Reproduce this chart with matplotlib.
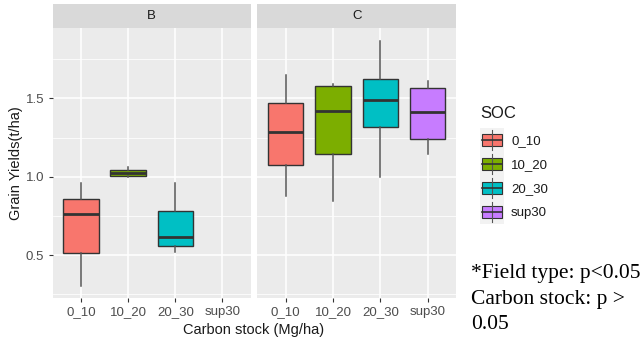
import matplotlib
matplotlib.use("Agg")
import matplotlib.pyplot as plt
from matplotlib.patches import Rectangle

plt.rcParams["font.family"] = ["Liberation Sans", "DejaVu Sans"]

# SOC classes and five-number summaries per field type
soc_classes = ["0_10", "10_20", "20_30", "sup30"]
soc_colors = ["#F8766D", "#7CAE00", "#00BFC4", "#C77CFF"]

field_types = ["B", "C"]
# (whisker low, Q1, median, Q3, whisker high); None = no data
stats_B = [
    (0.30, 0.51, 0.76, 0.856, 0.962),
    (1.00, 1.006, 1.026, 1.04, 1.064),
    (0.517, 0.558, 0.617, 0.78, 0.958),
    None,
]
stats_C = [
    (0.877, 1.077, 1.285, 1.468, 1.649),
    (0.845, 1.147, 1.419, 1.581, 1.59),
    (1.00, 1.315, 1.49, 1.622, 1.866),
    (1.145, 1.242, 1.413, 1.568, 1.613),
]

note_lines = ["*Field type: p<0.05", "Carbon stock: p >", "0.05"]

W, H = 642, 343
fig = plt.figure(figsize=(W / 100, H / 100), dpi=100)
fig.patch.set_facecolor("white")

def px_axes(x0, y0, x1, y1):
    return fig.add_axes([x0 / W, 1 - y1 / H, (x1 - x0) / W, (y1 - y0) / H])

panels = [(52.7, 250.7), (257.3, 456.0)]
top, bottom, strip_top = 28.3, 298.0, 4.3
ylim = (0.226, 1.947)
edge = "#333333"

for (x0, x1), name, stats in zip(panels, field_types, [stats_B, stats_C]):
    ax = px_axes(x0, top, x1, bottom)
    ax.set_facecolor("#EBEBEB")
    for s in ax.spines.values():
        s.set_visible(False)

    bxp_stats, pos, cols = [], [], []
    for i, st in enumerate(stats):
        if st is None:
            continue
        lo, q1, med, q3, hi = st
        bxp_stats.append(dict(whislo=lo, q1=q1, med=med, q3=q3, whishi=hi, fliers=[]))
        pos.append(i + 1)
        cols.append(soc_colors[i])
    bp = ax.bxp(bxp_stats, positions=pos, widths=0.75, patch_artist=True,
                showcaps=False, showfliers=False,
                boxprops=dict(edgecolor=edge, linewidth=1.0),
                whiskerprops=dict(color="#555555", linewidth=1.1),
                medianprops=dict(color=edge, linewidth=2.0))
    for patch, c in zip(bp["boxes"], cols):
        patch.set_facecolor(c)

    ax.set_xlim(0.4, 4.6)
    ax.set_ylim(*ylim)
    ax.set_xticks(range(1, 5))
    ax.set_xticklabels(soc_classes)
    ax.set_yticks([0.5, 1.0, 1.5])
    ax.set_yticks([0.25, 0.75, 1.25, 1.75], minor=True)
    ax.grid(True, which="major", color="white", lw=1.1)
    ax.grid(True, which="minor", axis="y", color="white", lw=0.55)
    ax.set_axisbelow(True)
    ax.tick_params(which="major", length=3, width=0.8, color=edge,
                   labelcolor="#4D4D4D", labelsize=9.5, pad=3)
    ax.tick_params(which="minor", length=0)
    if name == "B":
        ax.set_yticklabels(["0.5", "1.0", "1.5"])
    else:
        ax.tick_params(axis="y", labelleft=False, length=0)

    # facet strip
    sax = px_axes(x0, strip_top, x1, top)
    sax.set_facecolor("#D9D9D9")
    sax.set_xticks([])
    sax.set_yticks([])
    for s in sax.spines.values():
        s.set_visible(False)
    sax.text(0.5, 0.5, name, ha="center", va="center", fontsize=9.5, color="#1A1A1A",
             transform=sax.transAxes)

fig.text(16 / W, 1 - 163 / H, "Grain Yields(t/ha)", rotation=90, ha="center",
         va="center", fontsize=10.5, color="#1A1A1A")
fig.text(254 / W, 1 - 330 / H, "Carbon stock (Mg/ha)", ha="center", va="center",
         fontsize=10.5, color="#1A1A1A")

# legend drawn by hand in ggplot style
fig.text(480 / W, 1 - 114 / H, "SOC", ha="left", va="center", fontsize=12, color="#1A1A1A")
lax = px_axes(480, 128, 504, 224)
lax.set_xlim(0, 1)
lax.set_ylim(4, 0)
lax.set_facecolor("#F2F2F2")
lax.set_xticks([])
lax.set_yticks([])
for s in lax.spines.values():
    s.set_visible(False)
for i, (lab, c) in enumerate(zip(soc_classes, soc_colors)):
    yc = i + 0.5
    lax.plot([0.5, 0.5], [i + 0.08, i + 0.92], color="#555555", lw=0.8)
    lax.add_patch(Rectangle((0.08, yc - 0.27), 0.84, 0.54, facecolor=c, edgecolor=edge, lw=0.8))
    lax.plot([0.08, 0.92], [yc, yc], color=edge, lw=1.2)
    fig.text(511 / W, 1 - (140.7 + i * 24.2) / H, lab, ha="left", va="center",
             fontsize=9.5, color="#1A1A1A")

# significance note, one line at a time
for i, line in enumerate(note_lines):
    fig.text(471 / W, 1 - (278.3 + i * 25.5) / H, line, ha="left", va="baseline",
             fontsize=15.5, family="Liberation Serif", color="black")

fig.savefig("out.png", dpi=100)
plt.close(fig)
